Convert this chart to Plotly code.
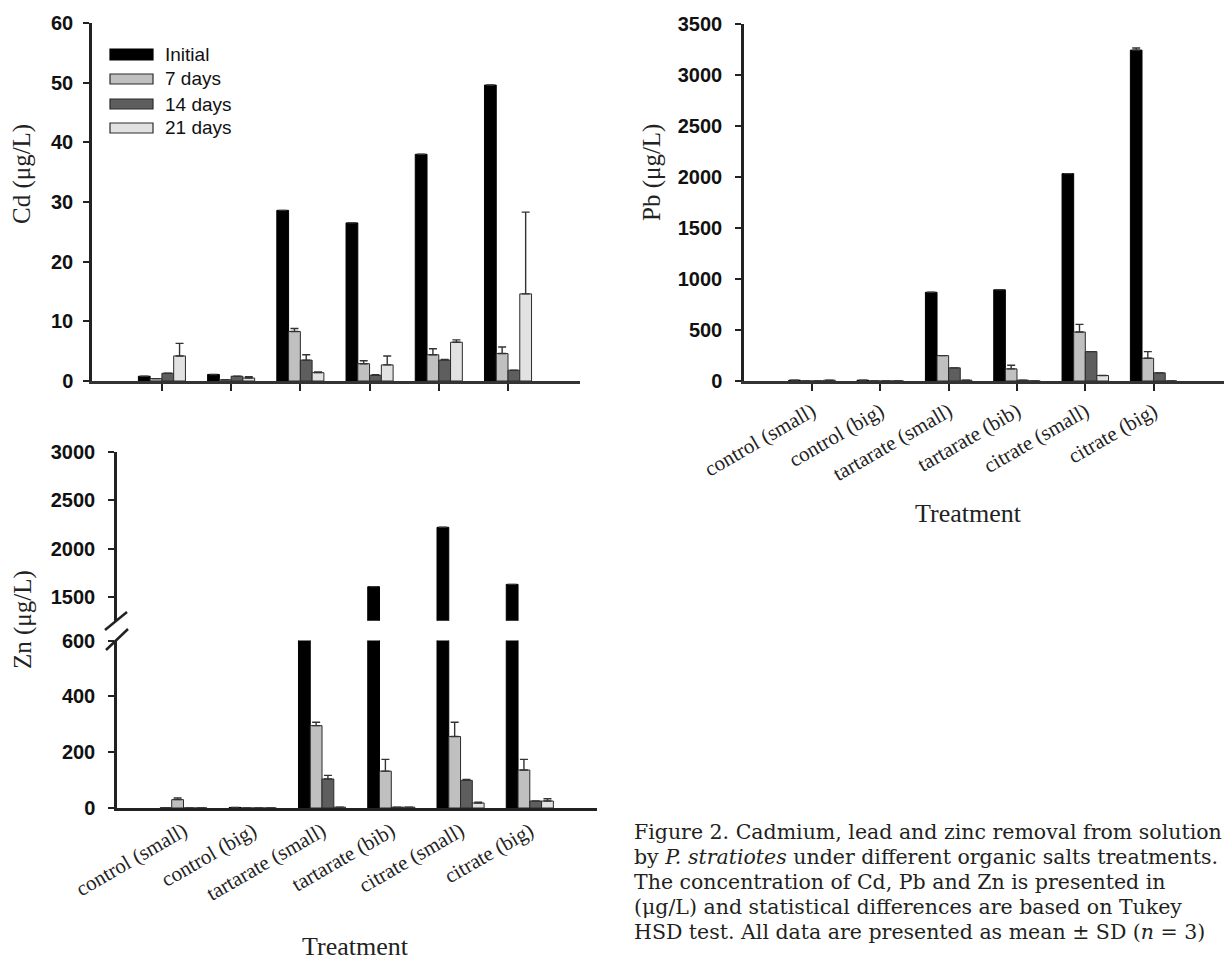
import plotly.graph_objects as go

# ---------------- data ----------------
categories = ["control (small)", "control (big)", "tartarate (small)",
              "tartarate (bib)", "citrate (small)", "citrate (big)"]
series_names = ["Initial", "7 days", "14 days", "21 days"]

cd_initial = [0.8, 1.1, 28.6, 26.5, 38.0, 49.6]
cd_7d = [0.4, 0.2, 8.3, 2.9, 4.4, 4.6]
cd_14d = [1.3, 0.8, 3.5, 0.95, 3.5, 1.8]
cd_21d = [4.2, 0.5, 1.4, 2.7, 6.5, 14.6]
cd_initial_sd = [0, 0, 0, 0, 0, 0]
cd_7d_sd = [0, 0, 0.5, 0.5, 1.0, 1.1]
cd_14d_sd = [0, 0, 0.9, 0.1, 0.1, 0]
cd_21d_sd = [2.1, 0.2, 0.1, 1.5, 0.4, 13.7]

pb_initial = [8, 8, 870, 894, 2033, 3244]
pb_7d = [0, 0, 249, 119, 480, 223]
pb_14d = [0, 0, 129, 8, 288, 80]
pb_21d = [8, 0, 8, 0, 54, 0]
pb_initial_sd = [0, 0, 0, 0, 0, 20]
pb_7d_sd = [0, 0, 0, 36, 75, 65]
pb_14d_sd = [0, 0, 0, 0, 0, 0]
pb_21d_sd = [0, 0, 0, 0, 0, 0]

zn_initial = [0, 2, 1000, 1607, 2221, 1631]
zn_7d = [30, 0, 295, 132, 256, 136]
zn_14d = [0, 0, 104, 3, 99, 25]
zn_21d = [0, 0, 3, 3, 18, 25]
zn_initial_sd = [0, 0, 0, 0, 0, 0]
zn_7d_sd = [6, 0, 12, 42, 51, 38]
zn_14d_sd = [0, 0, 13, 0, 3, 0]
zn_21d_sd = [0, 0, 0, 0, 3, 8]

cd_ticks = [0, 10, 20, 30, 40, 50, 60]
pb_ticks = [0, 500, 1000, 1500, 2000, 2500, 3000, 3500]
zn_low_ticks = [0, 200, 400, 600]
zn_high_ticks = [1500, 2000, 2500, 3000]

caption_lines = [
    "Figure 2. Cadmium, lead and zinc removal from solution",
    "by <i>P. stratiotes</i> under different organic salts treatments.",
    "The concentration of Cd, Pb and Zn is presented in",
    "(μg/L) and statistical differences are based on Tukey",
    "HSD test. All data are presented as mean ± SD (<i>n</i> = 3)",
]

# ---------------- styling helpers ----------------
W, H = 1224, 960


def px(x):
    return x / W


def py(y):
    return 1 - y / H


fills = ["#000000", "#c0c0c0", "#5e5e5e", "#e2e2e2"]
outlines = ["#000000", "#2b2b2b", "#2b2b2b", "#2b2b2b"]

TICKFONT = dict(family="Liberation Sans, Arial, sans-serif", size=20, color="#111", weight="bold")
CATFONT = dict(family="Liberation Serif, Times New Roman, serif", size=21, color="#222")
TITLEFONT = dict(family="Liberation Serif, Times New Roman, serif", size=25, color="#222")

fig = go.Figure()


def add_bars(vals, sds, xa, ya):
    for name, v, s, f, o in zip(series_names, vals, sds, fills, outlines):
        fig.add_trace(go.Bar(
            x=categories, y=v, name=name,
            marker=dict(color=f, line=dict(color=o, width=1)),
            error_y=dict(type="data", symmetric=False, array=s,
                         arrayminus=[0] * len(s), color="#333",
                         thickness=1.4, width=4),
            xaxis=xa, yaxis=ya, showlegend=False))


add_bars([cd_initial, cd_7d, cd_14d, cd_21d],
         [cd_initial_sd, cd_7d_sd, cd_14d_sd, cd_21d_sd], "x", "y")
add_bars([pb_initial, pb_7d, pb_14d, pb_21d],
         [pb_initial_sd, pb_7d_sd, pb_14d_sd, pb_21d_sd], "x2", "y2")
add_bars([zn_initial, zn_7d, zn_14d, zn_21d],
         [zn_initial_sd, zn_7d_sd, zn_14d_sd, zn_21d_sd], "x3", "y3")
add_bars([zn_initial, zn_7d, zn_14d, zn_21d],
         [zn_initial_sd, zn_7d_sd, zn_14d_sd, zn_21d_sd], "x4", "y4")

yax_common = dict(showgrid=False, zeroline=False, showline=True, linewidth=2.5,
                  linecolor="#222", ticks="outside", ticklen=6, tickwidth=1.5,
                  tickcolor="#222", tickfont=TICKFONT, automargin=False)
xax_common = dict(showgrid=False, zeroline=False, automargin=False)

fig.update_layout(
    width=W, height=H,
    margin=dict(l=0, r=0, t=0, b=0, autoexpand=False),
    paper_bgcolor="white", plot_bgcolor="white",
    barmode="group", bargap=0.32, bargroupgap=0,
    showlegend=False,
    xaxis=dict(domain=[px(92), px(580)], range=[-1.01, 6.04], anchor="y",
               showline=True, linewidth=3,
               linecolor="#333", ticks="outside", ticklen=7, tickwidth=1.5,
               tickcolor="#222", showticklabels=False, **xax_common),
    yaxis=dict(domain=[py(381), py(23)], range=[0, 60], tickvals=cd_ticks,
               anchor="x", ticklabelstandoff=6, **yax_common),
    xaxis2=dict(domain=[px(744), 1.0], range=[-0.995, 6.03], anchor="y2",
                showline=True, linewidth=3,
                linecolor="#333", ticks="outside", ticklen=7, tickwidth=1.5,
                tickcolor="#222", tickangle=-30, tickfont=CATFONT, **xax_common),
    yaxis2=dict(domain=[py(381), py(24)], range=[0, 3500], tickvals=pb_ticks,
                anchor="x2", ticklabelstandoff=9, **yax_common),
    xaxis3=dict(domain=[px(117), px(597)], range=[-0.96, 5.97], anchor="y3",
                showline=True, linewidth=2.5,
                linecolor="#222", ticks="", tickangle=-30, tickfont=CATFONT, **xax_common),
    yaxis3=dict(domain=[py(808), py(640.5)], range=[0, 600], tickvals=zn_low_ticks,
                anchor="x3", ticklabelstandoff=9, **yax_common),
    xaxis4=dict(domain=[px(117), px(597)], range=[-0.96, 5.97], anchor="y4",
                visible=False, **xax_common),
    yaxis4=dict(domain=[py(620.7), py(452)], range=[1255, 3000], tickvals=zn_high_ticks,
                anchor="x4", ticklabelstandoff=9, **yax_common),
)

annotations = []
# axis titles
for text, x, y in [("Cd (μg/L)", 22, 174), ("Pb (μg/L)", 652, 173), ("Zn (μg/L)", 23, 620)]:
    annotations.append(dict(text=text, x=px(x), y=py(y), xref="paper", yref="paper",
                            textangle=-90, showarrow=False, font=TITLEFONT,
                            xanchor="center", yanchor="middle"))
for x, y in [(968, 513), (355, 946)]:
    annotations.append(dict(text="Treatment", x=px(x), y=py(y), xref="paper", yref="paper",
                            showarrow=False, font=dict(TITLEFONT, size=26),
                            xanchor="center", yanchor="middle"))

# manual legend (inside Cd panel)
legend_rows = [(49, 60), (74, 84), (99, 109), (123, 133)]
shapes = []
for (y0, y1), name, f, o in zip(legend_rows, series_names, fills, outlines):
    shapes.append(dict(type="rect", xref="paper", yref="paper",
                       x0=px(110), x1=px(153), y0=py(y1), y1=py(y0),
                       fillcolor=f, line=dict(color=o, width=1.2)))
    annotations.append(dict(text=name, x=px(163), y=py((y0 + y1) / 2), xref="paper",
                            yref="paper", showarrow=False, xanchor="left", yanchor="middle",
                            font=dict(family="Liberation Sans, Arial, sans-serif", size=19,
                                      color="#111")))

# axis-break marks on the Zn axis
for (x0, y0, x1, y1) in [(105, 630, 127, 612), (106, 650, 128, 629)]:
    shapes.append(dict(type="line", xref="paper", yref="paper",
                       x0=px(x0), y0=py(y0), x1=px(x1), y1=py(y1),
                       line=dict(color="#222", width=2.5), layer="above"))

# caption
for i, line in enumerate(caption_lines):
    annotations.append(dict(text=line, x=px(632), y=py(832 + 25 * i), xref="paper",
                            yref="paper", showarrow=False, xanchor="left", yanchor="middle",
                            font=dict(family="DejaVu Serif, serif", size=20.5, color="#231f20")))

fig.update_layout(annotations=annotations, shapes=shapes)
fig.write_html(
    "out.html",
    config={"displayModeBar": False},
    post_script="document.body.style.margin='0px';document.body.style.overflow='hidden';",
)
